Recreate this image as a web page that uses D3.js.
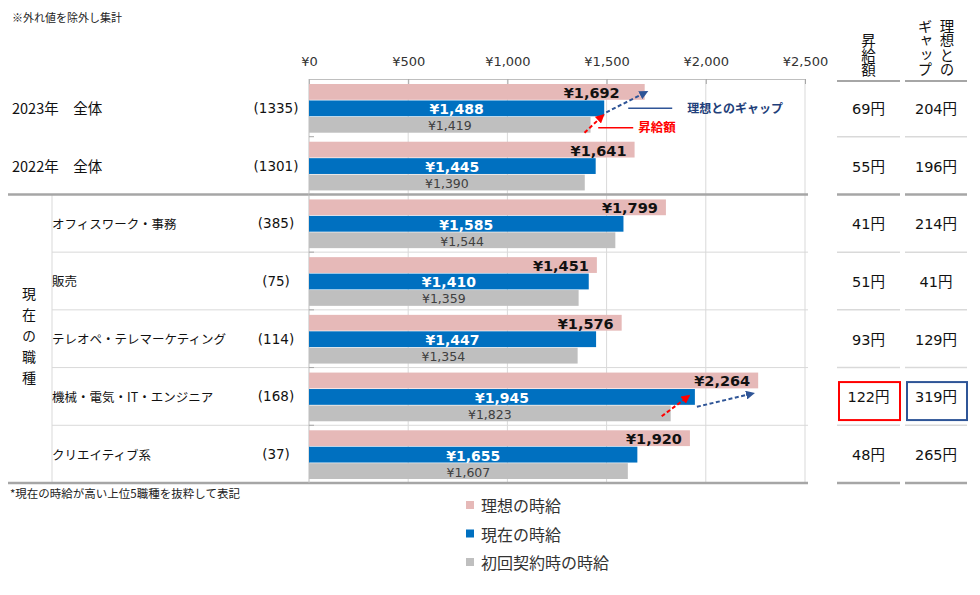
<!DOCTYPE html>
<html>
<head>
<meta charset="utf-8">
<script src="https://cdn.jsdelivr.net/npm/d3@7"></script>
<style>
  body { margin: 0; background: #fff; }
  svg text { font-family: "DejaVu Sans", "Noto Sans CJK JP", sans-serif; }
  .jp { font-family: "Noto Sans CJK JP", sans-serif; }
  .vert { writing-mode: vertical-rl; }
</style>
</head>
<body>
<div id="chart"></div>
<script>
//////////////
// Data
//////////////
var rows = ['2023年　全体', '2022年　全体', 'オフィスワーク・事務', '販売',
            'テレオペ・テレマーケティング', '機械・電気・IT・エンジニア', 'クリエイティブ系'];
var counts = ['(1335)', '(1301)', '(385)', '(75)', '(114)', '(168)', '(37)'];
var series = ['理想の時給', '現在の時給', '初回契約時の時給'];
var ideal   = [1692, 1641, 1799, 1451, 1576, 2264, 1920];
var current = [1488, 1445, 1585, 1410, 1447, 1945, 1655];
var initial = [1419, 1390, 1544, 1359, 1354, 1823, 1607];
var raise = [69, 55, 41, 51, 93, 122, 48];
var gap   = [204, 196, 214, 41, 129, 319, 265];
var ticks = [0, 500, 1000, 1500, 2000, 2500];
var colors = ['#E6B9B8', '#0070C0', '#BFBFBF'];

//////////////
// Setup
//////////////
var w = 980, h = 595;
var svg = d3.select('#chart').append('svg').attr('width', w).attr('height', h);

var x = d3.scaleLinear().domain([0, 2500]).range([309, 805]);
var y = d3.scaleBand().domain(rows).range([79, 483]);
var sub = d3.scaleBand().domain(series).range([5, y.bandwidth() - 4]).paddingInner(0.04);
var yen = function(d) { return '¥' + d3.format(',')(d); };

var table = rows.map(function(r, i) {
  return {row: r, i: i, vals: [ideal[i], current[i], initial[i]]};
});

// notes
svg.append('text').attr('class', 'jp').attr('x', 12).attr('y', 17)
  .attr('dominant-baseline', 'central').attr('font-size', 11).attr('fill', '#222')
  .text('※外れ値を除外し集計');
svg.append('text').attr('class', 'jp').attr('x', 10).attr('y', 493)
  .attr('dominant-baseline', 'central').attr('font-size', 11.5).attr('fill', '#222')
  .text('*現在の時給が高い上位5職種を抜粋して表記');

//////////////
// Grid & lines
//////////////
svg.append('g').selectAll('line').data(ticks.slice(1)).enter().append('line')
  .attr('x1', x).attr('x2', x).attr('y1', 79).attr('y2', 483)
  .attr('stroke', '#D9D9D9').attr('stroke-width', 1);

// job row separators
svg.append('g').selectAll('line').data(rows.slice(3)).enter().append('line')
  .attr('x1', 52).attr('x2', 808)
  .attr('y1', function(d) { return y(d); }).attr('y2', function(d) { return y(d); })
  .attr('stroke', '#D9D9D9').attr('stroke-width', 1);

svg.append('line').attr('x1', 52).attr('x2', 52).attr('y1', y(rows[2])).attr('y2', 483)
  .attr('stroke', '#D9D9D9');

// thick lines
[y(rows[2]), 483].forEach(function(yy) {
  svg.append('line').attr('x1', 8).attr('x2', 808).attr('y1', yy).attr('y2', yy)
    .attr('stroke', '#A6A6A6').attr('stroke-width', 2.5);
});

// x axis
var ax = svg.append('g').attr('transform', 'translate(0,79)')
  .call(d3.axisTop(x).tickValues(ticks).tickFormat(yen).tickSizeInner(-5).tickSizeOuter(0).tickPadding(13));
ax.select('.domain').attr('stroke', '#BFBFBF');
ax.selectAll('.tick line').attr('stroke', '#A6A6A6');
ax.selectAll('.tick text').attr('font-size', 13).attr('fill', '#333');

// category axis line
svg.append('line').attr('x1', 309).attr('x2', 309).attr('y1', 79).attr('y2', 483)
  .attr('stroke', '#BFBFBF');
svg.append('g').selectAll('line').data(rows.slice(1)).enter().append('line')
  .attr('x1', 309).attr('x2', 314)
  .attr('y1', function(d) { return y(d); }).attr('y2', function(d) { return y(d); })
  .attr('stroke', '#A6A6A6');

//////////////
// Bars
//////////////
var grp = svg.append('g').selectAll('g').data(table).enter().append('g')
  .attr('transform', function(d) { return 'translate(0,' + y(d.row) + ')'; });

grp.selectAll('rect').data(function(d) { return d.vals; }).enter().append('rect')
  .attr('x', x(0))
  .attr('y', function(d, j) { return sub(series[j]); })
  .attr('width', function(d) { return x(d) - x(0); })
  .attr('height', sub.bandwidth())
  .attr('fill', function(d, j) { return colors[j]; });

// value labels (2023 label pulled left to clear the arrow head)
grp.append('text')
  .attr('x', function(d) { return x(d.vals[0]) - (d.i === 0 ? 25 : 8); })
  .attr('y', sub(series[0]) + sub.bandwidth() / 2 + 1)
  .attr('text-anchor', 'end').attr('dominant-baseline', 'central')
  .attr('font-size', 14.5).attr('font-weight', 'bold').attr('fill', '#111')
  .text(function(d) { return yen(d.vals[0]); });

grp.append('text')
  .attr('x', function(d) { return (x(0) + x(d.vals[1])) / 2; })
  .attr('y', sub(series[1]) + sub.bandwidth() / 2 + 1)
  .attr('text-anchor', 'middle').attr('dominant-baseline', 'central')
  .attr('font-size', 14).attr('font-weight', 'bold').attr('fill', '#fff')
  .text(function(d) { return yen(d.vals[1]); });

grp.append('text')
  .attr('x', function(d) { return (x(0) + x(d.vals[2])) / 2; })
  .attr('y', sub(series[2]) + sub.bandwidth() / 2 + 1)
  .attr('text-anchor', 'middle').attr('dominant-baseline', 'central')
  .attr('font-size', 12.5).attr('fill', '#404040')
  .text(function(d) { return yen(d.vals[2]); });

//////////////
// Row labels
//////////////
grp.append('text').attr('class', 'jp')
  .attr('x', function(d) { return d.i < 2 ? 12 : 52; })
  .attr('y', y.bandwidth() / 2).attr('dominant-baseline', 'central')
  .attr('font-size', function(d) { return d.i < 2 ? 14.5 : 12.5; })
  .attr('fill', '#111')
  .text(function(d) { return d.row; });

grp.append('text')
  .attr('x', 276).attr('y', y.bandwidth() / 2)
  .attr('text-anchor', 'middle').attr('dominant-baseline', 'central')
  .attr('font-size', 13.5).attr('fill', '#111')
  .text(function(d) { return counts[d.i]; });

// vertical group label
svg.append('text').attr('class', 'jp vert')
  .attr('x', 29).attr('y', (y(rows[2]) + 483) / 2)
  .attr('text-anchor', 'middle').attr('letter-spacing', 7)
  .attr('font-size', 14).attr('fill', '#111')
  .text('現在の職種');

//////////////
// Right table
//////////////
var cols = [{x1: 837, x2: 900, vals: raise, head: ['昇給額'], box: '#FF0000'},
            {x1: 905, x2: 967, vals: gap, head: ['理想との', 'ギャップ'], box: '#2F5597'}];

cols.forEach(function(c) {
  var cx = (c.x1 + c.x2) / 2;
  // header, vertical text columns right to left
  c.head.forEach(function(t, k) {
    var hx = c.head.length === 1 ? cx : cx + 11 - k * 22;
    svg.append('text').attr('class', 'jp vert')
      .attr('x', hx).attr('y', 77).attr('text-anchor', 'end')
      .attr('font-size', 14.5).attr('fill', '#111')
      .text(t);
  });
  svg.append('line').attr('x1', c.x1).attr('x2', c.x2).attr('y1', 81).attr('y2', 81)
    .attr('stroke', '#A6A6A6').attr('stroke-width', 2);

  rows.slice(1).forEach(function(r, i) {
    var thick = (i === 1);
    svg.append('line').attr('x1', c.x1).attr('x2', c.x2).attr('y1', y(r)).attr('y2', y(r))
      .attr('stroke', thick ? '#A6A6A6' : '#D9D9D9').attr('stroke-width', thick ? 2.5 : 1.5);
  });
  svg.append('line').attr('x1', c.x1).attr('x2', c.x2).attr('y1', 483).attr('y2', 483)
    .attr('stroke', '#A6A6A6').attr('stroke-width', 2.5);

  svg.append('g').selectAll('text').data(c.vals).enter().append('text')
    .attr('x', cx).attr('y', function(d, i) { return y(rows[i]) + y.bandwidth() / 2 + 1; })
    .attr('text-anchor', 'middle').attr('dominant-baseline', 'central')
    .attr('font-size', 14.5).attr('fill', '#111')
    .text(function(d) { return d + '円'; });

  // highlighted engineer row
  svg.append('rect').attr('x', c.x1 + 2).attr('width', c.x2 - c.x1 - 2)
    .attr('y', y(rows[5]) + 14.5).attr('height', 38)
    .attr('fill', 'none').attr('stroke', c.box).attr('stroke-width', 2);
});

//////////////
// Arrows
//////////////
var defs = svg.append('defs');
[['red', '#FF0000'], ['blue', '#2F5597']].forEach(function(m) {
  defs.append('marker').attr('id', 'arr-' + m[0])
    .attr('viewBox', '0 0 10 10').attr('refX', 8).attr('refY', 5)
    .attr('markerWidth', 4.5).attr('markerHeight', 4.5).attr('orient', 'auto')
    .append('path').attr('d', 'M0,0L10,5L0,10Z').attr('fill', m[1]);
});

function arrow(x1, y1, x2, y2, kind, col) {
  svg.append('line').attr('x1', x1).attr('y1', y1).attr('x2', x2).attr('y2', y2)
    .attr('stroke', col).attr('stroke-width', 2).attr('stroke-dasharray', '4,2.5')
    .attr('marker-end', 'url(#arr-' + kind + ')');
}

function barTop(i, j) { return y(rows[i]) + sub(series[j]); }
function barMid(i, j) { return barTop(i, j) + sub.bandwidth() / 2; }
function barBot(i, j) { return barTop(i, j) + sub.bandwidth(); }

// 2023 overall
arrow(x(initial[0]) - 6, barBot(0, 2), x(current[0]) - 1, barBot(0, 1) - 1, 'red', '#FF0000');
arrow(x(current[0]) + 2, barMid(0, 1) + 4, x(ideal[0]) + 2, barMid(0, 0), 'blue', '#2F5597');
// engineer
arrow(x(initial[5]) - 9, barBot(5, 2) - 5, x(current[5]) - 6, barMid(5, 1) - 1, 'red', '#FF0000');
arrow(x(current[5]) + 2, barBot(5, 1) + 2, x(ideal[5]) - 5, barBot(5, 0) + 5, 'blue', '#2F5597');

// callouts
var c0 = x(current[0]);
svg.append('line').attr('x1', c0 + 24).attr('x2', c0 + 68)
  .attr('y1', barMid(0, 1)).attr('y2', barMid(0, 1))
  .attr('stroke', '#2F5597').attr('stroke-width', 1.5);
svg.append('text').attr('class', 'jp').attr('x', c0 + 83).attr('y', barMid(0, 1) - 1)
  .attr('dominant-baseline', 'central').attr('font-size', 12).attr('font-weight', 'bold')
  .attr('fill', '#1F3F7A').text('理想とのギャップ');
svg.append('line').attr('x1', c0 - 6).attr('x2', c0 + 29)
  .attr('y1', barMid(0, 2) + 3).attr('y2', barMid(0, 2) + 3)
  .attr('stroke', '#FF0000').attr('stroke-width', 1.5);
svg.append('text').attr('class', 'jp').attr('x', c0 + 34).attr('y', barMid(0, 2) + 2)
  .attr('dominant-baseline', 'central').attr('font-size', 12.5).attr('font-weight', 'bold')
  .attr('fill', '#FF0000').text('昇給額');

//////////////
// Legend
//////////////
var leg = svg.append('g').selectAll('g').data(series).enter().append('g')
  .attr('transform', function(d, i) { return 'translate(466,' + (505 + i * 28.5) + ')'; });
leg.append('rect').attr('x', 0).attr('y', -4).attr('width', 8).attr('height', 8)
  .attr('fill', function(d, i) { return colors[i]; });
leg.append('text').attr('class', 'jp').attr('x', 15).attr('y', 0)
  .attr('dominant-baseline', 'central').attr('font-size', 16).attr('fill', '#333')
  .text(function(d) { return d; });
</script>
</body>
</html>
